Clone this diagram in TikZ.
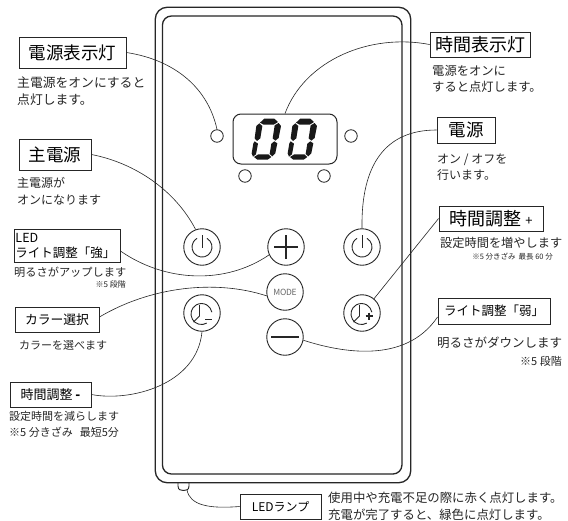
\documentclass[tikz,border=0pt]{standalone}
\usepackage{fontspec}
\setmainfont{Noto Sans CJK JP}
\newcommand{\fs}[1]{\fontsize{#1}{#1}\selectfont}
\newcommand{\fsl}[2]{\fontsize{#1}{#2}\selectfont}
\tikzset{
  x=1pt,y=-1pt,
  tbox/.style={draw=black!85,line width=0.9pt,inner sep=0pt,rectangle},
  btn/.style={draw=black!85,line width=0.9pt,circle,minimum size=36.5pt,inner sep=0pt},
  lamp/.style={draw=black!85,line width=0.8pt,circle,minimum size=12.5pt,inner sep=0pt},
  desc/.style={anchor=west,align=left,inner sep=0pt,text=black!85},
  descr/.style={anchor=east,align=right,inner sep=0pt,text=black!85},
  wire/.style={draw=black!85,line width=0.6pt},
  icon/.style={draw=black!85,line width=0.9pt},
  shell/.style={draw=black!85,line width=1.3pt,rectangle,inner sep=0pt}
}
\begin{document}
\begin{tikzpicture}
\useasboundingbox (0,0) rectangle (568,520);
\fill[white] (0,0) rectangle (568,520);
% body
\node[shell,rounded corners=12pt,minimum width=255.5pt,minimum height=475.5pt] (outer) at (283,245) {};
\node[shell,rounded corners=9pt,minimum width=239.5pt,minimum height=458pt] (inner) at (282.2,245) {};
\draw[icon] (178,483) -- (178,486) .. controls (178,490) and (181,490.5) .. (183.5,490.5) .. controls (186,490.5) and (189,490) .. (189,486) -- (189,483);
\coordinate (bump) at (187,490);
% display
\node[tbox,line width=1pt,rounded corners=8pt,minimum width=104pt,minimum height=50pt] (disp) at (285,139) {};
\foreach \d in {0,108}{
\begin{scope}[shift={(210,90)},x=0.3333pt,y=-0.3333pt,xshift=\d*0.3333pt]
\fill[black!90] (150,98)--(163,86)--(193,86)--(204,96)--(191,104)--(161,104)--cycle;
\fill[black!90] (206,99)--(213,108)--(206,144)--(196,152)--(188,145)--(194,106)--cycle;
\fill[black!90] (148,100)--(157,108)--(151,145)--(141,153)--(134,145)--(139,108)--cycle;
\fill[black!90] (134,154)--(144,161)--(138,193)--(129,200)--(125,190)--(130,160)--cycle;
\fill[black!90] (193,154)--(202,160)--(196,190)--(187,199)--(179,192)--(184,161)--cycle;
\fill[black!90] (132,201)--(145,193)--(175,193)--(184,201)--(173,209)--(142,209)--cycle;
\end{scope}
}
% lamps
\node[lamp] (l1) at (217,136) {};
\node[lamp] (l2) at (245,176) {};
\node[lamp] (l3) at (351,136) {};
\node[lamp] (l4) at (324,176) {};
% buttons
\node[btn] (powL) at (202,247) {};
\node[btn] (plus) at (286,247) {};
\node[btn] (powR) at (362,247) {};
\node[btn,font=\fs{8.5}] (mode) at (285,292) {\addfontfeature{LetterSpace=-3}\textcolor{black!60}{MODE}};
\node[btn] (clkL) at (202,313) {};
\node[btn] (clkR) at (362,313) {};
\node[btn] (minus) at (285,337) {};
% icons
\foreach \c in {202,362}{
\draw[icon] (\c+5,238.4) arc (-60:240:10);
\draw[icon] (\c,235) -- (\c,248);
}
\draw[icon,line width=1.4pt] (274,247) -- (298,247) (286,235) -- (286,259);
\draw[icon,line width=1.4pt] (271,337) -- (299,337);
\foreach \c in {201.5,361.5}{
\draw[icon] (\c+5.25,323.1) arc (60:350:10.5);
\draw[icon] (\c-2,305) -- (\c-2,316) -- (\c-8,322);
}
\draw[icon] (205,319.5) -- (212,319.5);
\draw[icon,line width=1.1pt] (365.5,316) -- (372.5,316) (369,312.5) -- (369,319.5);
% label boxes
\node[tbox,font=\fs{17.5},minimum width=107pt,minimum height=31pt] (tA) at (72.5,52.5) {電源表示灯};
\node[tbox,font=\fs{17.5},minimum width=72pt,minimum height=31pt] (tB) at (55,154.5) {主電源};
\node[tbox,font=\fsl{12.5}{15},minimum width=106pt,minimum height=33pt,align=left,text width=103pt] (tC) at (67,245.5) {LED\\ライト調整「強」};
\node[tbox,font=\fs{12.8},minimum width=84pt,minimum height=25pt] (tD) at (57,319.5) {カラー選択};
\node[tbox,font=\fs{13},minimum width=81pt,minimum height=25pt] (tE) at (50.5,394.5) {時間調整 \textbf{-}};
\node[tbox,font=\fs{18},minimum width=100pt,minimum height=25pt] (tF) at (480,44.5) {時間表示灯};
\node[tbox,font=\fs{17.5},minimum width=58pt,minimum height=26pt] (tG) at (466,130) {電源};
\node[tbox,font=\fs{18},minimum width=104pt,minimum height=25pt] (tH) at (491,218.5) {時間調整 {\fs{13}+}};
\node[tbox,font=\fs{12.5},minimum width=112pt,minimum height=26pt] (tI) at (494,311) {ライト調整「弱」};
\node[tbox,font=\fs{12},minimum width=81pt,minimum height=25pt] (tJ) at (280.5,506.5) {LEDランプ};
% descriptions
\node[desc,font=\fsl{12.8}{17}] (dA) at (17,91.5) {主電源をオンにすると\\点灯します。};
\node[desc,font=\fsl{12}{17}] (dB) at (17,191.5) {主電源が\\オンになります};
\node[desc,font=\fs{11.2}] (dC) at (14,272) {明るさがアップします};
\node[descr,font=\fs{8}] (dC2) at (126,284.5) {※5 段階};
\node[desc,font=\fs{11}] (dD) at (19,345) {カラーを選べます};
\node[desc,font=\fsl{11}{16}] (dE) at (9,424) {設定時間を減らします\\※5 分きざみ\hspace{7pt}最短5分};
\node[desc,font=\fsl{12.3}{16}] (dF) at (432,79) {電源をオンに\\すると点灯します。};
\node[desc,font=\fsl{12}{16}] (dG) at (437,167) {オン / オフを\\行います。};
\node[desc,font=\fs{12.2}] (dH) at (440,243) {設定時間を増やします};
\node[descr,font=\fs{7.5}] (dH2) at (553,257) {※5 分きざみ\hspace{3pt}最長 60 分};
\node[desc,font=\fs{12.5}] (dI) at (437,343) {明るさがダウンします};
\node[descr,font=\fs{11}] (dI2) at (562,361) {※5 段階};
\node[desc,font=\fsl{12.4}{17}] (dJ) at (328,506.5) {使用中や充電不足の際に赤く点灯します。\\充電が完了すると、緑色に点灯します。};
% connectors
\draw[wire] (tA.east) .. controls (175,60) and (208,88) .. (l1.90);
\draw[wire] (tB.east) .. controls (135,163) and (175,190) .. (powL.110);
\draw[wire] ([yshift=-5.5pt]tC.east) .. controls (165,282) and (225,285) .. (plus.205);
\draw[wire] ([yshift=2.5pt]tD.east) .. controls (150,287) and (215,279) .. (mode.192);
\draw[wire] (clkL.south) .. controls (197,385) and (130,402) .. (tE.east);
\draw[wire] (disp.north) .. controls (305,60) and (370,33) .. (tF.west);
\draw[wire] (powR.north) .. controls (361,165) and (385,130) .. (tG.west);
\draw[wire] (tH.west) -- (clkR.50);
\draw[wire] ([yshift=-6pt]tI.west) .. controls (405,365) and (340,352) .. (minus.-10);
\draw[wire] (bump) .. controls (190,505) and (208,509) .. (tJ.west);
\end{tikzpicture}
\end{document}
